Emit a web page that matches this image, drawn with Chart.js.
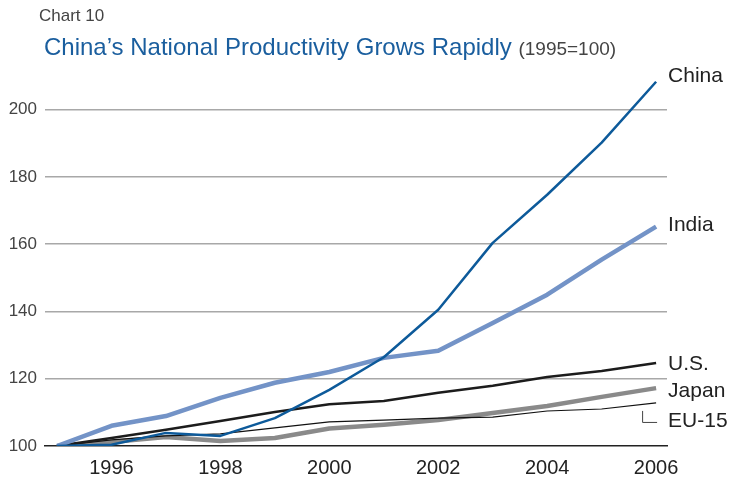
<!DOCTYPE html>
<html>
<head>
<meta charset="utf-8">
<script src="https://cdn.jsdelivr.net/npm/chart.js@4.4.1/dist/chart.umd.min.js"></script>
<style>
  html, body { margin: 0; padding: 0; background: #fff; }
  #wrap { position: relative; width: 733px; height: 482px; }
  canvas { position: absolute; left: 0; top: 0; }
  .kicker { position: absolute; left: 39px; top: 6px; font: 17px "Liberation Sans", Arial, sans-serif; color: #444; }
  .title { position: absolute; left: 44px; top: 33px; font: 24px "Liberation Sans", Arial, sans-serif; color: #1a5e9e; white-space: nowrap; }
  .title span { font-size: 19px; color: #444; }
</style>
</head>
<body>
<div id="wrap">
  <canvas id="c" width="733" height="482"></canvas>
  <div class="kicker">Chart 10</div>
  <div class="title">China’s National Productivity Grows Rapidly <span>(1995=100)</span></div>
</div>
<script>
const years = [1995, 1996, 1997, 1998, 1999, 2000, 2001, 2002, 2003, 2004, 2005, 2006];
const seriesNames = ["China", "India", "U.S.", "Japan", "EU-15"];
const china = [100, 100.4, 103.9, 103.0, 108.3, 116.7, 126.4, 140.5, 160.4, 174.7, 190.2, 208.3];
const india = [100, 106.0, 108.9, 114.3, 118.8, 122.0, 126.2, 128.3, 136.6, 145.0, 155.4, 165.2];
const us    = [100, 102.4, 104.8, 107.4, 110.1, 112.4, 113.4, 115.8, 117.9, 120.5, 122.3, 124.7];
const japan = [100, 101.2, 102.7, 101.5, 102.4, 105.2, 106.3, 107.7, 109.8, 111.9, 114.6, 117.2];
const eu15  = [100, 101.8, 103.0, 103.6, 105.4, 107.2, 107.7, 108.3, 108.6, 110.4, 111.0, 112.8];
const xTicks = [1996, 1998, 2000, 2002, 2004, 2006];
const yTicks = [100, 120, 140, 160, 180, 200];

const toPts = arr => arr.map((v, i) => ({ x: years[i], y: v }));

const endLabels = {
  id: 'endLabels',
  afterDatasetsDraw(chart) {
    const ctx = chart.ctx;
    const xs = chart.scales.x, ys = chart.scales.y;
    const offsets = { "China": -6, "India": -1, "U.S.": 1, "Japan": 3, "EU-15": 18 };
    ctx.save();
    ctx.font = '21px "Liberation Sans", Arial, sans-serif';
    ctx.fillStyle = '#222';
    ctx.textBaseline = 'middle';
    chart.data.datasets.forEach(ds => {
      const last = ds.data[ds.data.length - 1];
      const px = xs.getPixelForValue(last.x);
      const py = ys.getPixelForValue(last.y);
      ctx.fillText(ds.label, px + 12, py + offsets[ds.label]);
      if (ds.label === "EU-15") {
        ctx.strokeStyle = '#444';
        ctx.lineWidth = 1;
        ctx.beginPath();
        ctx.moveTo(px - 13.5, py + 8);
        ctx.lineTo(px - 13.5, py + 19.5);
        ctx.lineTo(px + 1, py + 19.5);
        ctx.stroke();
      }
    });
    ctx.restore();
  }
};

new Chart(document.getElementById('c'), {
  type: 'line',
  data: {
    datasets: [
      { label: seriesNames[0], data: toPts(china), borderColor: '#0d5a9a', borderWidth: 2.5, order: 1 },
      { label: seriesNames[1], data: toPts(india), borderColor: '#7393c7', borderWidth: 4.5, order: 2 },
      { label: seriesNames[2], data: toPts(us),    borderColor: '#1c1c1c', borderWidth: 2.5, order: 3 },
      { label: seriesNames[3], data: toPts(japan), borderColor: '#8a8a8a', borderWidth: 4.5, order: 5 },
      { label: seriesNames[4], data: toPts(eu15),  borderColor: '#111111', borderWidth: 1.2, order: 4 }
    ]
  },
  options: {
    responsive: false,
    animation: false,
    events: [],
    elements: { point: { radius: 0 }, line: { tension: 0, borderCapStyle: 'butt', borderJoinStyle: 'round' } },
    layout: { padding: { top: 76, right: 66, bottom: 0, left: 0 } },
    plugins: { legend: { display: false }, tooltip: { enabled: false }, title: { display: false } },
    scales: {
      x: {
        type: 'linear',
        min: 1994.78,
        max: 2006.2,
        afterBuildTicks: s => { s.ticks = xTicks.map(v => ({ value: v })); },
        afterFit: s => { s.height = 36; },
        grid: { display: false, drawTicks: false },
        border: { display: true, color: '#222', width: 1.5 },
        ticks: { padding: 10, color: '#222', font: { family: '"Liberation Sans", Arial, sans-serif', size: 20 }, maxRotation: 0, autoSkip: false, callback: v => String(v) }
      },
      y: {
        type: 'linear',
        min: 100,
        max: 210,
        afterBuildTicks: s => { s.ticks = yTicks.map(v => ({ value: v })); },
        afterFit: s => { s.width = 45; },
        grid: { color: ctx => ctx.tick && ctx.tick.value === 100 ? 'rgba(0,0,0,0)' : '#a8a8a8', lineWidth: 1.5, drawTicks: false },
        border: { display: false },
        ticks: { padding: 8, color: '#444', font: { family: '"Liberation Sans", Arial, sans-serif', size: 17 }, callback: v => String(v) }
      }
    }
  },
  plugins: [endLabels]
});
</script>
</body>
</html>
